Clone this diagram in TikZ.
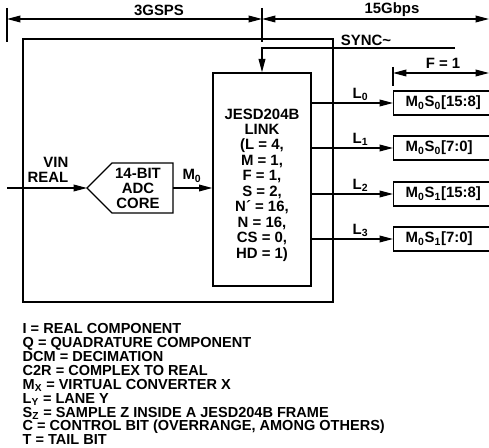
\documentclass[tikz,border=0pt]{standalone}
\usepackage{fontspec}
\setmainfont{Liberation Sans}
\usetikzlibrary{arrows.meta,positioning}
\newcommand\sub[1]{\textsubscript{#1}}
\tikzset{
  lanebox/.style={draw,anchor=west,minimum height=18pt,text width=80pt,inner xsep=9pt,align=left},
  plain/.style={inner sep=0pt}
}
\begin{document}
\begin{tikzpicture}[x=0.75pt,y=-0.75pt,>={Triangle[length=10pt,width=5pt]},line width=1pt,font=\fontsize{11.2}{12}\selectfont\bfseries]
    \useasboundingbox (0,0) rectangle (489,448);
    \clip (0,0) rectangle (489,448);
    % rates on top
    \coordinate (dL) at (7,19);
    \coordinate (dM) at (262,19);
    \coordinate (dR) at (489,19);
    \draw (7,8)--(7,42) (262,8)--(262,42);
    \draw[<->] (dL)--(dM);
    \draw[<->] (dM)--(dR);
    \node[plain] (gsps) at (159,10) {3GSPS};
    \node[plain] (gbps) at (392,10) {15Gbps};
    % chip outline
    \draw (23,39) rectangle (333,302);
    % link block
    \node[draw,minimum width=73.5pt,minimum height=159.75pt,inner sep=0pt] (link) at (262,179.5) {};
    \node[align=center,plain,font=\fontsize{11.2}{11.6}\selectfont\bfseries] (linktxt) at (262,185)
        {JESD204B\\LINK\\(L = 4,\\M = 1,\\F = 1,\\S = 2,\\N´ = 16,\\N = 16,\\CS = 0,\\HD = 1)};
    % sync
    \coordinate (sync) at (455,48);
    \draw[->] (sync) -| (link.north);
    \node[plain] (synclbl) at (366,40) {SYNC\textasciitilde};
    % adc core
    \coordinate (adcin) at (87,188);
    \coordinate (adcout) at (173,188);
    \draw (adcin)--(112,163)--(173,163)--(173,213)--(112,213)--cycle;
    \node[align=center,plain,font=\fontsize{11.2}{11.25}\selectfont\bfseries] (adc) at (138,188) {14-BIT\\ADC\\CORE};
    \coordinate (vin) at (7,188);
    \draw[->] (vin)--(adcin);
    \node[align=right,anchor=south east,plain,font=\fontsize{11.2}{10.8}\selectfont\bfseries] (vinlbl) at (69,183) {VIN\\REAL};
    \draw[->] (adcout)--(adcout -| link.west);
    \node[plain] (m0) at (192,176) {M\sub{0}};
    % lanes
    \foreach \ln/\y/\txt in {0/103/{M\sub{0}S\sub{0}[15:8]},1/148/{M\sub{0}S\sub{0}[7:0]},2/194/{M\sub{0}S\sub{1}[15:8]},3/239/{M\sub{0}S\sub{1}[7:0]}}{
        \node[lanebox] (lane\ln) at (393,\y) {\txt};
        \draw[->] (link.east |- lane\ln.west)--(lane\ln.west) node[pos=0.6,above=1pt,plain] (lbl\ln) {L\sub{\ln}};
    }
    % frame width
    \coordinate (fL) at (393,73);
    \coordinate (fR) at (489,73);
    \draw (393,67)--(393,86);
    \draw[<->] (fL)--(fR);
    \node[plain] (fone) at (443,63) {F = 1};
    % legend
    \node[anchor=north west,align=left,plain,font=\fontsize{10.9}{10.4}\selectfont\bfseries] (legend) at (22,323)
        {I = REAL COMPONENT\\
         Q = QUADRATURE COMPONENT\\
         DCM = DECIMATION\\
         C2R = COMPLEX TO REAL\\
         M\sub{X} = VIRTUAL CONVERTER X\\
         L\sub{Y} = LANE Y\\
         S\sub{Z} = SAMPLE Z INSIDE A JESD204B FRAME\\
         C = CONTROL BIT (OVERRANGE, AMONG OTHERS)\\
         T = TAIL BIT};
\end{tikzpicture}
\end{document}
